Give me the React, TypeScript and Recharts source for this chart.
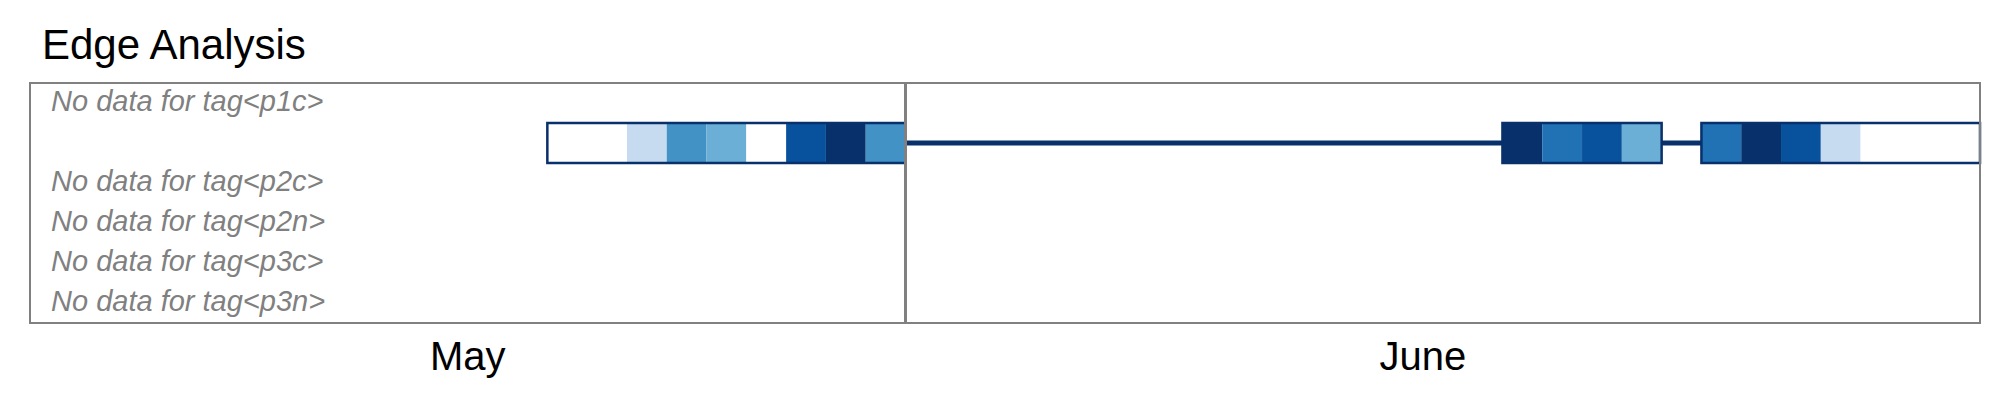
import React from 'react';
import {
  ComposedChart,
  Bar,
  XAxis,
  YAxis,
  ReferenceArea,
  ReferenceLine,
} from 'recharts';

const FONT = '"Liberation Sans", Arial, sans-serif';

// one row per tag, only p1n has observations
const tags = ['p1c', 'p1n', 'p2c', 'p2n', 'p3c', 'p3n'];
const observedTag = 'p1n';

// day axis: 0 = May 10, 22 = June 1, 49 = June 28
const totalDays = 49;
const months = ['May', 'June'];
const monthStartDays = [0, 22];
const monthLabelDays = [11, 35];

// intensity level per day from May 23 (day 13) to June 27, null = no observation
const firstObservedDay = 13;
const p1nLevels: (number | null)[] = [
  0, 0, 2, 5, 4, 0, 7, 8, 5,
  null, null, null, null, null, null, null, null, null, null, null, null, null, null, null,
  8, 6, 7, 4,
  null,
  6, 8, 7, 2, 0, 0, 0,
];

// ColorBrewer Blues, level 0 drawn white
const blues = ['#ffffff', '#deebf7', '#c6dbef', '#9ecae1', '#6baed6', '#4292c6', '#2171b5', '#08519c', '#08306b'];

const rows = tags.map((tag) => {
  if (tag !== observedTag) return { tag };
  const row: Record<string, any> = { tag, lead: firstObservedDay };
  p1nLevels.forEach((_, i) => { row[`d${i}`] = 1; });
  return row;
});

// contiguous runs of observed days -> outlined blocks
const runs: [number, number][] = [];
p1nLevels.forEach((lvl, i) => {
  const day = firstObservedDay + i;
  if (lvl === null) return;
  const last = runs[runs.length - 1];
  if (last && last[1] === day) last[1] = day + 1;
  else runs.push([day, day + 1]);
});
const gaps = runs.slice(1).map((r, i) => [runs[i][1], r[0]]);

const RowLabel = (props: any) => {
  const { x, y, payload } = props;
  if (payload.value === observedTag) return null;
  return (
    <text x={x + 13} y={y + 8} textAnchor="start" fontFamily={FONT} fontSize={29}
      fontStyle="italic" fill="#808080">
      {`No data for tag<${payload.value}>`}
    </text>
  );
};

export default function App() {
  return (
    <div style={{ position: 'absolute', left: 0, top: 0, width: 2009, height: 407, background: '#fff' }}>
      <div style={{ position: 'absolute', left: 42, top: 24, fontFamily: FONT, fontSize: 42, lineHeight: '42px', color: '#000' }}>
        Edge Analysis
      </div>
      <ComposedChart
        width={2009}
        height={407}
        data={rows}
        layout="vertical"
        margin={{ top: 83, right: 29, bottom: 0, left: 30 }}
        barCategoryGap={0}
        barGap={0}
      >
        <XAxis
          type="number"
          domain={[0, totalDays]}
          ticks={monthLabelDays}
          tickFormatter={(v: number) => months[monthLabelDays.indexOf(v)]}
          axisLine={false}
          tickLine={false}
          height={84}
          tickMargin={13}
          tick={{ fontSize: 40, fill: '#000', fontFamily: FONT }}
          allowDataOverflow
        />
        <YAxis type="category" dataKey="tag" mirror axisLine={false} tickLine={false} tick={<RowLabel />} />
        <Bar dataKey="lead" stackId="s" fill="none" isAnimationActive={false} />
        {p1nLevels.map((lvl, i) => (
          <Bar
            key={`d${i}`}
            dataKey={`d${i}`}
            stackId="s"
            fill={lvl === null ? 'none' : blues[lvl]}
            isAnimationActive={false}
          />
        ))}
        {gaps.map(([a, b]) => (
          <ReferenceLine
            key={`gap-${a}`}
            segment={[{ x: a, y: observedTag }, { x: b, y: observedTag }]}
            stroke="#08306b"
            strokeWidth={5}
          />
        ))}
        {runs.map(([a, b]) => (
          <ReferenceArea
            key={`run-${a}`}
            x1={a}
            x2={b}
            y1={observedTag}
            y2={observedTag}
            fill="none"
            fillOpacity={0}
            stroke="#08306b"
            strokeWidth={2.5}
            strokeOpacity={1}
            ifOverflow="visible"
            zIndex={700}
          />
        ))}
        <ReferenceLine x={monthStartDays[1]} stroke="#808080" strokeWidth={3} zIndex={800} />
        <ReferenceArea
          x1={0}
          x2={totalDays}
          y1={tags[0]}
          y2={tags[tags.length - 1]}
          fill="none"
          fillOpacity={0}
          stroke="#808080"
          strokeWidth={2}
          strokeOpacity={1}
          ifOverflow="visible"
          zIndex={800}
        />
      </ComposedChart>
    </div>
  );
}
